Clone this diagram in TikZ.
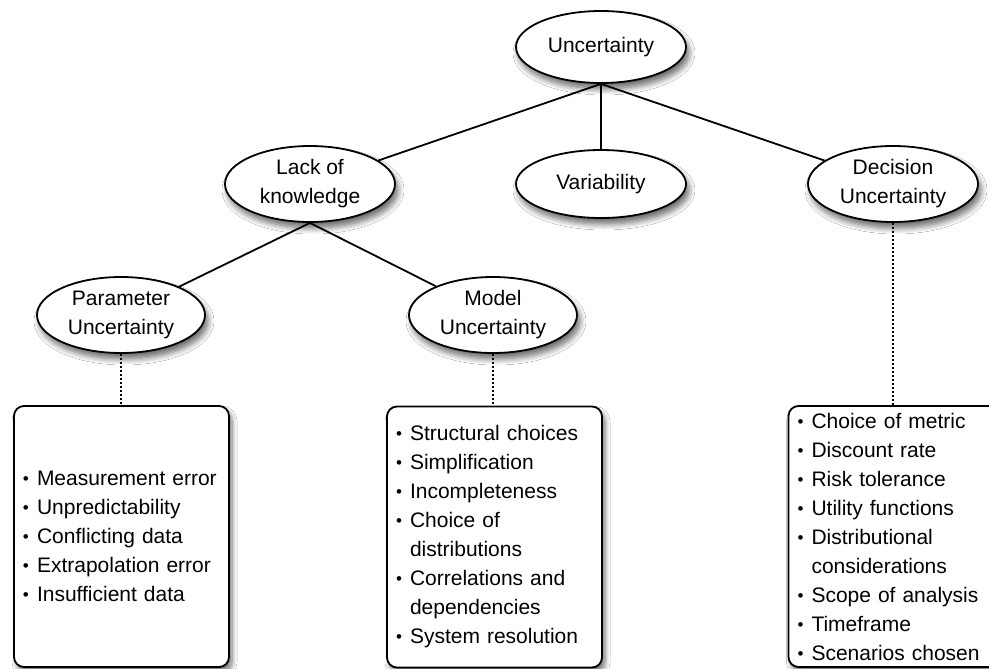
\documentclass[tikz,border=0pt]{standalone}
\usepackage{fontspec}
\setmainfont{Liberation Sans}
\usetikzlibrary{shapes.geometric,shadows.blur}
\newcommand{\bul}{\makebox[14pt][l]{\raisebox{1pt}{\fontsize{17}{17}\selectfont•}}}
\begin{document}
\begin{tikzpicture}[x=1pt,y=-1pt,
  every node/.style={font=\fontsize{21}{29}\selectfont},
  oval/.style={ellipse,draw,line width=1.8pt,fill=white,align=center,
    minimum width=170pt,minimum height=72pt,inner sep=0pt,
    blur shadow={shadow xshift=3pt,shadow yshift=-6pt,shadow blur steps=8,shadow blur radius=6pt,shadow opacity=60}},
  listbox/.style={rectangle,rounded corners=10pt,draw,line width=1.8pt,fill=white,
    minimum height=261pt,text width=197pt,inner xsep=9pt,align=left,
    blur shadow={shadow xshift=3pt,shadow yshift=-5pt,shadow blur steps=8,shadow blur radius=5pt,shadow opacity=55}},
  tree/.style={line width=1.8pt},
  dots/.style={line width=2pt,dotted}]
\useasboundingbox[fill=white] (0,0) rectangle (989,669);

\node[oval] (unc) at (601,47) {Uncertainty};
\node[oval,minimum height=76pt] (lack) at (310,184) {Lack of\\knowledge};
\node[oval,minimum height=68pt] (var) at (601,184) {Variability};
\node[oval,minimum height=76pt] (dec) at (893,184) {Decision\\Uncertainty};
\node[oval,minimum height=76pt,minimum width=168pt] (par) at (121,315) {Parameter\\Uncertainty};
\node[oval,minimum height=76pt,minimum width=168pt] (mod) at (493,315) {Model\\Uncertainty};

\node[listbox] (pbox) at (121.5,536.5) {%
\bul Measurement error\\
\bul Unpredictability\\
\bul Conflicting data\\
\bul Extrapolation error\\
\bul Insufficient data};
\node[listbox] (mbox) at (494.5,537) {%
\bul Structural choices\\
\bul Simplification\\
\bul Incompleteness\\
\bul Choice of\\
\hspace*{14pt}distributions\\
\bul Correlations and\\
\hspace*{14pt}dependencies\\
\bul System resolution};
\node[listbox] (dbox) at (896,536.5) {%
\bul Choice of metric\\
\bul Discount rate\\
\bul Risk tolerance\\
\bul Utility functions\\
\bul Distributional\\
\hspace*{14pt}considerations\\
\bul Scope of analysis\\
\bul Timeframe\\
\bul Scenarios chosen};

\draw[tree] (unc.south) -- (lack);
\draw[tree] (unc.south) -- (var);
\draw[tree] (unc.south) -- (dec);
\draw[tree] (lack.south) -- (par);
\draw[tree] (lack.south) -- (mod);

\draw[dots] (par.south) -- (pbox.north -| par.south);
\draw[dots] (mod.south) -- (mbox.north -| mod.south);
\draw[dots] (dec.south) -- (dbox.north -| dec.south);
\end{tikzpicture}
\end{document}
